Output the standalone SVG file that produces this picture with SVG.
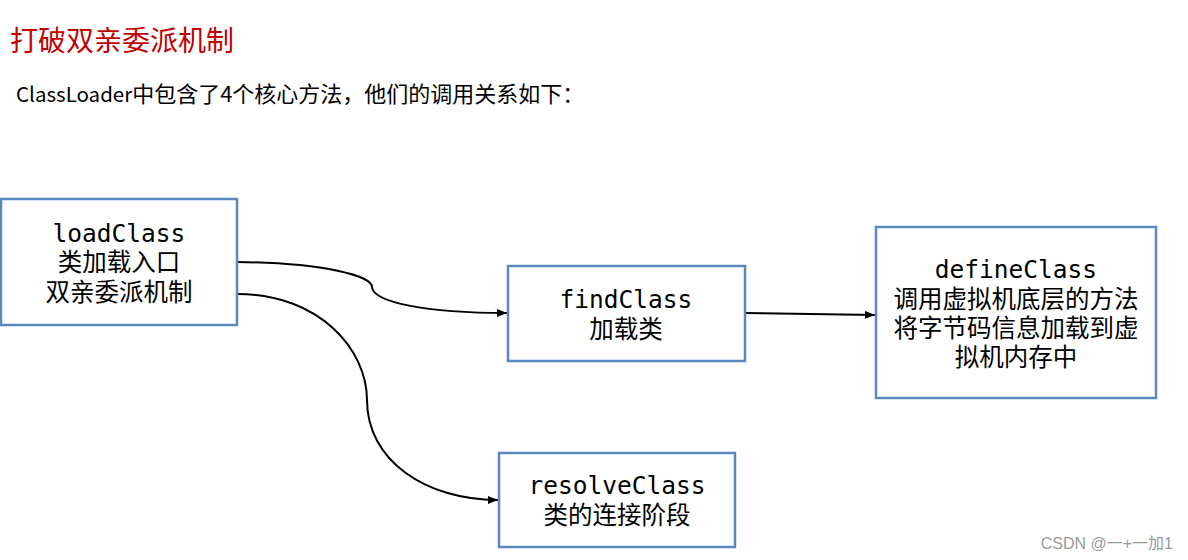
<svg xmlns="http://www.w3.org/2000/svg" width="1188" height="560" viewBox="0 0 1188 560">
<defs>
<style>
.box{fill:#fff;stroke:#5B87C3;stroke-width:2.5}
.lbl{font-family:"DejaVu Sans Mono","Noto Sans CJK SC",monospace;font-size:24.5px;fill:#000;text-anchor:middle}
.edge{fill:none;stroke:#000;stroke-width:2}
</style>
<marker id="arr" markerUnits="userSpaceOnUse" markerWidth="11" markerHeight="9" refX="10" refY="4" orient="auto">
<path d="M0,0 L10,4 L0,8 z" fill="#000"/>
</marker>
</defs>
<rect width="1188" height="560" fill="#fff"/>
<text x="10" y="51" font-family="'Noto Sans CJK SC',sans-serif" font-size="28" fill="#C00000">打破双亲委派机制</text>
<text x="16" y="102" font-family="'Noto Sans CJK SC',sans-serif" font-size="22" fill="#000"><tspan font-size="20.5">ClassLoader</tspan>中包含了4个核心方法，他们的调用关系如下：</text>

<g id="connectors">
<path class="edge" d="M237,262 C325,263 372,276 372,287 C373,302 425,313 507,313" marker-end="url(#arr)"/>
<path class="edge" d="M237,294 C320,294 367,350 367,400 C367,460 425,500 498,500" marker-end="url(#arr)"/>
<path class="edge" d="M745,313 L875,315" marker-end="url(#arr)"/>
</g>

<g id="loadClass">
<rect class="box" x="1" y="199" width="236" height="126"/>
<text class="lbl"><tspan x="119" y="242">loadClass</tspan><tspan x="119" y="271">类加载入口</tspan><tspan x="119" y="301">双亲委派机制</tspan></text>
</g>

<g id="findClass">
<rect class="box" x="508" y="266" width="237" height="95"/>
<text class="lbl"><tspan x="626" y="308">findClass</tspan><tspan x="626" y="338">加载类</tspan></text>
</g>

<g id="defineClass">
<rect class="box" x="876" y="227" width="280" height="171"/>
<text class="lbl"><tspan x="1016" y="278">defineClass</tspan><tspan x="1016" y="308">调用虚拟机底层的方法</tspan><tspan x="1016" y="337">将字节码信息加载到虚</tspan><tspan x="1016" y="366">拟机内存中</tspan></text>
</g>

<g id="resolveClass">
<rect class="box" x="499" y="453" width="236" height="94"/>
<text class="lbl"><tspan x="617" y="494">resolveClass</tspan><tspan x="617" y="524">类的连接阶段</tspan></text>
</g>

<text x="1173" y="549" font-family="'Liberation Sans','Noto Sans CJK SC',sans-serif" font-size="16" fill="#9a9a9a" text-anchor="end">CSDN @一+一加1</text>
</svg>
